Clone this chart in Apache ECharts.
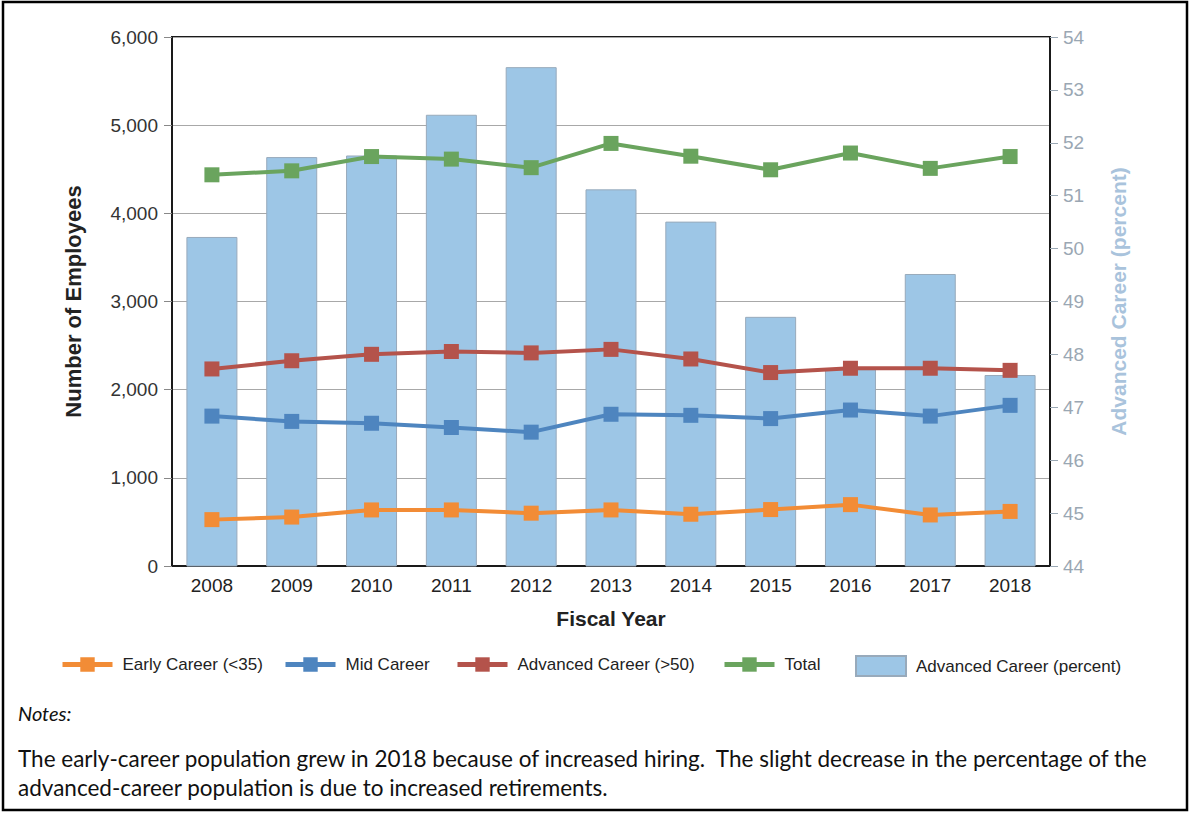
<!DOCTYPE html>
<html>
<head>
<meta charset="utf-8">
<script src="https://cdn.jsdelivr.net/npm/echarts@6/dist/echarts.min.js"></script>
<style>
html,body{margin:0;padding:0;background:#fff;}
#chart{width:1193px;height:813px;}
</style>
</head>
<body>
<div id="chart"></div>
<script>
var years = ['2008','2009','2010','2011','2012','2013','2014','2015','2016','2017','2018'];
var earlyCareer = [526, 555, 636, 636, 599, 636, 587, 640, 696, 579, 619];
var midCareer = [1700, 1640, 1619, 1571, 1518, 1721, 1709, 1672, 1769, 1700, 1822];
var advancedCareer = [2235, 2328, 2401, 2433, 2417, 2457, 2348, 2194, 2243, 2243, 2219];
var totalEmployees = [4437, 4482, 4644, 4615, 4518, 4793, 4648, 4494, 4684, 4510, 4644];
var advancedPercent = [50.22, 51.73, 51.76, 52.53, 53.43, 51.12, 50.51, 48.71, 47.72, 49.52, 47.61];

var seriesNames = ['Early Career (<35)', 'Mid Career', 'Advanced Career (>50)', 'Total', 'Advanced Career (percent)'];
var noteTitle = 'Notes:';
var noteLine1 = 'The early-career population grew in 2018 because of increased hiring.  The slight decrease in the percentage of the';
var noteLine2 = 'advanced-career population is due to increased retirements.';

var FONT = '"Liberation Sans", Arial, sans-serif';
var NOTE_FONT = 'Lato, "Open Sans", sans-serif';

var chart = echarts.init(document.getElementById('chart'), null, {renderer: 'svg'});

function lineSeries(name, data, color) {
  return {
    name: name, type: 'line', yAxisIndex: 0, data: data,
    symbol: 'rect', symbolSize: 15, z: 5,
    lineStyle: {color: color, width: 4},
    itemStyle: {color: color},
    emphasis: {disabled: true}
  };
}

var legendLefts = [60, 283, 455, 722, 855];
var legends = seriesNames.map(function (n, i) {
  var isBar = i === 4;
  return {
    data: [isBar ? {name: n, icon: 'rect'} : n],
    left: legendLefts[i], top: isBar ? 655 : 656, padding: 0,
    itemWidth: 50, itemHeight: isBar ? 20 : 18,
    lineStyle: {width: 5},
    textStyle: {fontSize: 17, color: '#222', fontFamily: FONT, padding: [0, 0, 0, 5]},
    selectedMode: false
  };
});

chart.setOption({
  animation: false,
  backgroundColor: '#fff',
  textStyle: {fontFamily: FONT},
  grid: {left: 172, right: 143, top: 37, bottom: 247, show: true, borderColor: '#1a1a1a', borderWidth: 2, backgroundColor: 'transparent'},
  legend: legends,
  xAxis: {
    type: 'category', data: years,
    name: 'Fiscal Year', nameLocation: 'middle', nameGap: 42,
    nameTextStyle: {fontSize: 21, fontWeight: 'bold', color: '#222', fontFamily: FONT},
    axisLine: {lineStyle: {color: '#1a1a1a', width: 2}},
    axisTick: {show: false},
    axisLabel: {fontSize: 19, color: '#222', margin: 10, fontFamily: FONT}
  },
  yAxis: [
    {
      type: 'value', min: 0, max: 6000, interval: 1000, position: 'left',
      name: 'Number of Employees', nameLocation: 'middle', nameGap: 88,
      nameTextStyle: {fontSize: 22, fontWeight: 'bold', color: '#222', fontFamily: FONT},
      axisLine: {show: true, lineStyle: {color: '#1a1a1a', width: 2}},
      axisTick: {show: true, length: 8, lineStyle: {color: '#888'}},
      axisLabel: {fontSize: 19, color: '#333', margin: 14, fontFamily: FONT,
        formatter: function (v) { return v.toLocaleString('en-US'); }},
      splitLine: {show: true, lineStyle: {color: '#a8a8a8', width: 1}}
    },
    {
      type: 'value', min: 44, max: 54, interval: 1, position: 'right',
      name: 'Advanced Career (percent)', nameLocation: 'middle', nameGap: 58,
      nameTextStyle: {fontSize: 21, fontWeight: 'bold', color: '#a9c3dc', fontFamily: FONT},
      axisLine: {show: true, lineStyle: {color: '#1a1a1a', width: 2}},
      axisTick: {show: true, length: 8, lineStyle: {color: '#9aa8b4'}},
      axisLabel: {fontSize: 19, color: '#9aa7b3', margin: 13, fontFamily: FONT},
      splitLine: {show: false}
    }
  ],
  series: [
    lineSeries(seriesNames[0], earlyCareer, '#f28c36'),
    lineSeries(seriesNames[1], midCareer, '#4e85bf'),
    lineSeries(seriesNames[2], advancedCareer, '#b4534b'),
    lineSeries(seriesNames[3], totalEmployees, '#6aa45e'),
    {
      name: seriesNames[4], type: 'bar', yAxisIndex: 1, data: advancedPercent,
      barWidth: 51, z: 2,
      itemStyle: {color: '#9dc6e6', borderColor: '#98aabb', borderWidth: 1},
      emphasis: {disabled: true}
    }
  ],
  graphic: [
    {type: 'rect', silent: true, z: 100,
      shape: {x: 3, y: 2, width: 1184, height: 808},
      style: {fill: 'none', stroke: '#000', lineWidth: 2.5}},
    {type: 'text', left: 18, top: 703, z: 100,
      style: {text: noteTitle, font: 'italic 20px ' + NOTE_FONT, fill: '#111'}},
    {type: 'text', left: 18, top: 747, z: 100,
      style: {text: noteLine1, font: '22.5px ' + NOTE_FONT, fill: '#111'}},
    {type: 'text', left: 18, top: 776, z: 100,
      style: {text: noteLine2, font: '22.5px ' + NOTE_FONT, fill: '#111'}}
  ]
});
</script>
</body>
</html>
